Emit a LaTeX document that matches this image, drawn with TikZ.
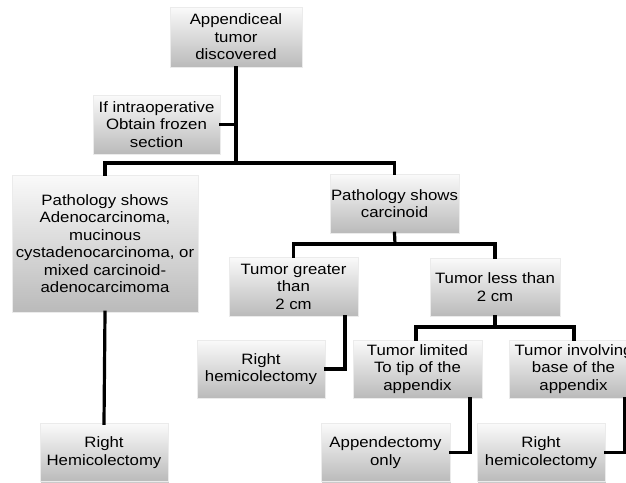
\documentclass[tikz,border=0pt]{standalone}
\usepackage{fontspec}
\setmainfont{Liberation Sans}[FakeStretch=1.12]
\usetikzlibrary{shadows}
\begin{document}
\begin{tikzpicture}[x=1pt,y=1pt,
  box/.style={rectangle, top color=black!2, bottom color=black!27, draw=black!8, line width=0.6pt,
    drop shadow={shadow xshift=1.2pt, shadow yshift=-1.2pt, opacity=0.35, fill=black!60},
    align=center, inner sep=1pt, minimum width=129pt, minimum height=59pt,
    font=\fontsize{15}{17.5}\selectfont},
  conn/.style={line width=3.2pt, line cap=rect}]
\useasboundingbox (0,0) rectangle (626,-482);
\clip (0,0) rectangle (626,-482);
\fill[white] (0,0) rectangle (626,-482);
% nodes
\node[box, minimum width=132pt, minimum height=60pt] (A) at (236,-37) {Appendiceal\\tumor\\discovered};
\node[box, minimum width=127pt] (F) at (156.5,-124.5) {If intraoperative\\Obtain frozen\\section};
\node[box, minimum width=186pt, minimum height=137pt] (P1) at (105,-243.5) {Pathology shows\\Adenocarcinoma,\\mucinous\\cystadenocarcinoma, or\\mixed carcinoid-\\adenocarcimoma};
\node[box] (P2) at (394.5,-203.5) {Pathology shows\\carcinoid};
\node[box] (G) at (293.5,-286.5) {Tumor greater\\than\\2 cm};
\node[box, minimum width=130pt, minimum height=58pt] (L) at (495,-287) {Tumor less than\\2 cm};
\node[box, minimum width=128pt, minimum height=58pt] (RH1) at (261,-369) {Right\\hemicolectomy};
\node[box, minimum height=58pt] (T) at (417.5,-369) {Tumor limited\\To tip of the\\appendix};
\node[box, minimum height=58pt] (I) at (573.5,-369) {Tumor involving\\base of the\\appendix};
\node[box, minimum height=58pt] (AO) at (385.5,-452.5) {Appendectomy\\only};
\node[box, minimum width=128pt, minimum height=58pt] (RH2) at (541,-452.5) {Right\\hemicolectomy};
\node[box, minimum width=128pt, minimum height=58pt] (RH0) at (104,-452.5) {Right\\Hemicolectomy};
% junction coordinates
\coordinate (j1) at (236,-163);
\coordinate (j2) at (395,-244);
\coordinate (j3) at (495,-327);
% connectors
\draw[conn] (A.south) -- (j1);
\draw[conn] (F.east) -- (F.east -| j1);
\draw[conn] (j1) -| (P1.north);
\draw[conn] (j1) -| (P2.north);
\draw[conn] (P1.south) -- (RH0.north);
\draw[conn] (P2.south) -- (j2);
\draw[conn] (j2) -| (G.north);
\draw[conn] (j2) -| (L.north);
\draw[conn] ([xshift=51.5pt]G.south) |- (RH1.east);
\draw[conn] (L.south) -- (j3);
\draw[conn] (j3) -| ([xshift=-1.5pt]T.north);
\draw[conn] (j3) -| ([xshift=0.5pt]I.north);
\draw[conn] ([xshift=52.5pt]T.south) |- (AO.east);
\draw[conn] ([xshift=51.5pt]I.south) |- (RH2.east);
\end{tikzpicture}
\end{document}
